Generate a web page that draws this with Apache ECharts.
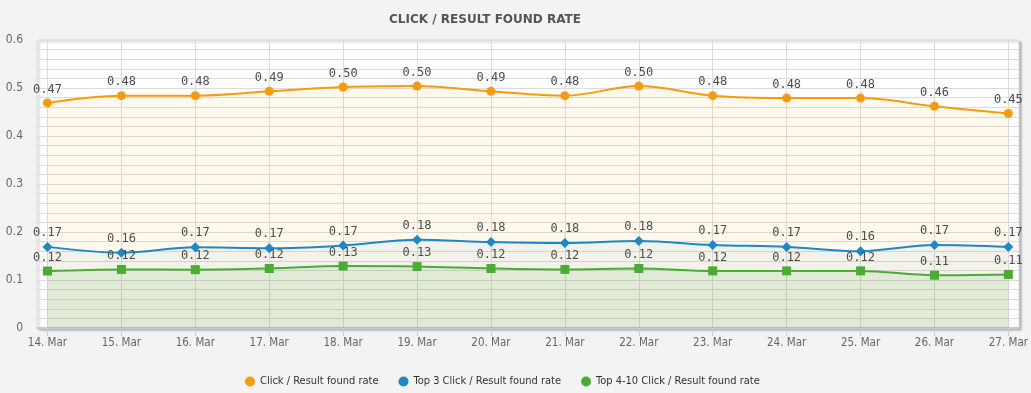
<!DOCTYPE html>
<html>
<head>
<meta charset="utf-8">
<script src="https://cdn.jsdelivr.net/npm/echarts@6/dist/echarts.min.js"></script>
<style>
html,body{margin:0;padding:0;background:#f3f3f3;}
#c{width:1031px;height:393px;}
</style>
</head>
<body>
<div id="c"></div>
<script>
const categories = ['14. Mar','15. Mar','16. Mar','17. Mar','18. Mar','19. Mar','20. Mar','21. Mar','22. Mar','23. Mar','24. Mar','25. Mar','26. Mar','27. Mar'];
const clickRate = [0.469,0.484,0.484,0.493,0.502,0.504,0.493,0.484,0.504,0.484,0.479,0.479,0.462,0.447];
const top3Rate = [0.169,0.157,0.168,0.166,0.172,0.184,0.179,0.177,0.181,0.173,0.169,0.160,0.173,0.169];
const top410Rate = [0.1186,0.122,0.1215,0.124,0.129,0.128,0.124,0.122,0.124,0.119,0.119,0.119,0.110,0.1116];
const yTicks = [0,0.1,0.2,0.3,0.4,0.5,0.6];
const seriesNames = ['Click / Result found rate','Top 3 Click / Result found rate','Top 4-10 Click / Result found rate'];

const narrow = "'DejaVu Sans Condensed','Liberation Sans Narrow',sans-serif";
const mono = "'DejaVu Sans Mono',monospace";

const chart = echarts.init(document.getElementById('c'));

function mkSeries(name, data, color, symbol, size, areaColor){
  return {
    name: name, type: 'line', xAxisIndex: 1, yAxisIndex: 1,
    data: data, smooth: 0.35, symbol: symbol, symbolSize: size,
    showAllSymbol: true,
    lineStyle: {color: color, width: 2},
    itemStyle: {color: color},
    areaStyle: {color: areaColor, origin: 'start'},
    label: {show: true, position: 'top', distance: 3, color: '#4d4d4d',
      fontFamily: mono, fontSize: 12,
      formatter: p => p.value.toFixed(2)},
    emphasis: {disabled: true}
  };
}

chart.setOption({
  backgroundColor: '#f3f3f3',
  animation: false,
  title: {
    text: 'CLICK / RESULT FOUND RATE', left: 480, textAlign: 'center', top: 9,
    textStyle: {color: '#555', fontSize: 12, fontWeight: 'bold', fontFamily: "'DejaVu Sans',sans-serif"}
  },
  legend: {
    left: 240, top: 371, itemGap: 20, itemWidth: 10, itemHeight: 10,
    icon: 'circle',
    textStyle: {color: '#333', fontSize: 11, fontFamily: narrow},
    data: seriesNames
  },
  grid: [
    {left: 37, right: 12, top: 40, bottom: 65, show: true, backgroundColor: '#fff',
     borderColor: '#ddd', borderWidth: 1,
     shadowColor: 'rgba(0,0,0,0.25)', shadowBlur: 2, shadowOffsetX: 2, shadowOffsetY: 2},
    {left: 47.5, right: 22.5, top: 40, bottom: 65}
  ],
  xAxis: [
    {gridIndex: 0, type: 'value', min: 0, max: 1,
     axisLine: {show: true, lineStyle: {color: '#c4cad0', width: 2}},
     axisTick: {show: false}, axisLabel: {show: false}, splitLine: {show: false}},
    {gridIndex: 1, type: 'category', data: categories, boundaryGap: false,
     axisLine: {show: false},
     axisTick: {show: true, length: 8, lineStyle: {color: '#c0d0e0'}},
     splitLine: {show: true, lineStyle: {color: '#dcdcdc'}},
     axisLabel: {color: '#666', fontSize: 11.5, fontFamily: narrow, margin: 9}}
  ],
  yAxis: [
    {gridIndex: 0, type: 'value', min: 0, max: 0.6, interval: 0.1,
     axisLine: {show: false}, axisTick: {show: false},
     axisLabel: {color: '#666', fontSize: 12, fontFamily: narrow, margin: 14,
       formatter: v => String(Math.round(v*10)/10)},
     splitLine: {show: true, lineStyle: {color: '#dcdcdc'}},
     minorTick: {show: false, splitNumber: 5},
     minorSplitLine: {show: true, lineStyle: {color: '#dcdcdc'}}},
    {gridIndex: 1, type: 'value', min: 0, max: 0.6, interval: 0.1, show: false,
     splitLine: {show: false}}
  ],
  series: [
    mkSeries(seriesNames[0], clickRate, '#f99a0e', 'circle', 9, 'rgba(255,153,0,0.1)'),
    mkSeries(seriesNames[1], top3Rate, '#1a88c9', 'diamond', 10, 'rgba(26,136,201,0.07)'),
    mkSeries(seriesNames[2], top410Rate, '#4aad33', 'rect', 9, 'rgba(74,173,51,0.15)')
  ]
});
</script>
</body>
</html>
